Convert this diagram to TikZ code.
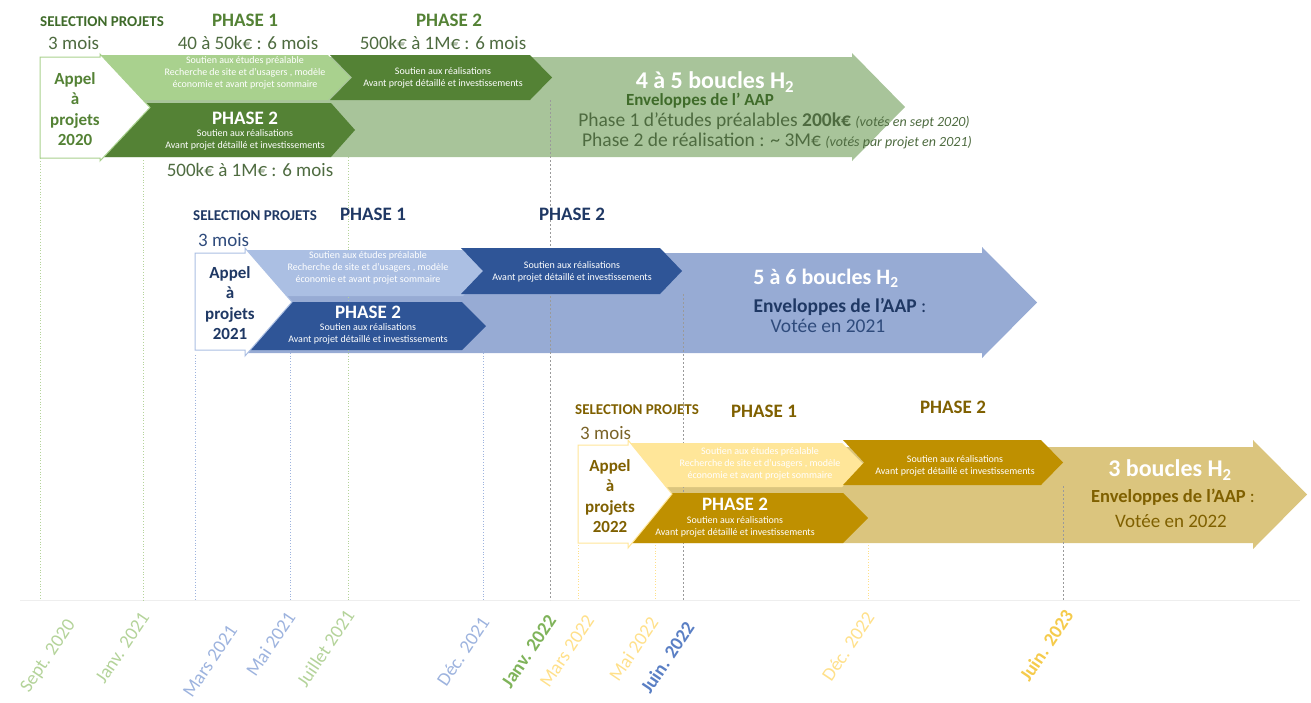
\documentclass[tikz,border=0pt]{standalone}
\usepackage{fontspec}
\setmainfont{Carlito}
\definecolor{gDark}{HTML}{548235}
\definecolor{gLight}{HTML}{A9D18E}
\definecolor{gBig}{HTML}{A8C49A}
\definecolor{gText}{HTML}{3F6B2A}
\definecolor{gText2}{HTML}{4E6B40}
\definecolor{bDark}{HTML}{2F5597}
\definecolor{bLight}{HTML}{ABBFE3}
\definecolor{bBig}{HTML}{97ABD4}
\definecolor{bText}{HTML}{1F3864}
\definecolor{bText2}{HTML}{2F4B7C}
\definecolor{yDark}{HTML}{BF9000}
\definecolor{yLight}{HTML}{FFE699}
\definecolor{yBig}{HTML}{DBC57E}
\definecolor{yText}{HTML}{7F6000}
\definecolor{yText2}{HTML}{7A6328}
\definecolor{dG}{HTML}{B4D39A}
\definecolor{dG2}{HTML}{7FB35A}
\definecolor{dB}{HTML}{9DB3DE}
\definecolor{dB2}{HTML}{5A7FC4}
\definecolor{dY}{HTML}{FFE08A}
\definecolor{dY2}{HTML}{F5CB4C}
\definecolor{gridc}{HTML}{EEEEEE}
\definecolor{dashc}{HTML}{9A9A9A}
% chevron: color, xleft, xnotch, xshoulder, xtip, ytop, ybot
\newcommand{\drawchev}[7]{\fill[#1] (#2,#6) -- (#4,#6) -- (#5,{(#6+#7)/2}) -- (#4,#7) -- (#2,#7) -- (#3,{(#6+#7)/2}) -- cycle;}
% block arrow: style, x0, xneck, xtip, shaft top, shaft bottom, head top, head bottom
\newcommand{\drawbig}[8]{\path[#1] (#2,#5) -- (#3,#5) -- (#3,#7) -- (#4,{(#7+#8)/2}) -- (#3,#8) -- (#3,#6) -- (#2,#6) -- cycle;}
\tikzset{
  selp/.style={font=\bfseries\fontsize{15}{17}\selectfont, anchor=west, inner sep=0},
  phase/.style={font=\bfseries\fontsize{19}{22}\selectfont, inner sep=0},
  amount/.style={font=\fontsize{19}{22}\selectfont, inner sep=0},
  small/.style={font=\fontsize{10}{11.8}\selectfont, align=center, text=white, inner sep=0},
  appel/.style={font=\bfseries\fontsize{17}{20.5}\selectfont, align=center, inner sep=0},
  big/.style={font=\bfseries\fontsize{24}{26}\selectfont, text=white, inner sep=0},
  env/.style={font=\bfseries\fontsize{17}{20}\selectfont, inner sep=0},
  vote/.style={font=\fontsize{19.5}{22}\selectfont, inner sep=0},
  date/.style={font=\fontsize{19}{22}\selectfont, rotate=56, anchor=east, inner sep=0},
  vline/.style={dotted, line width=0.8},
}
\begin{document}
\begin{tikzpicture}[x=1pt,y=-1pt]
\useasboundingbox (0,0) rectangle (1311,702);
\draw[gridc, line width=0.8] (20,600) -- (1300,600);
% big background arrows
\drawbig{fill=gBig}{100}{852}{905}{57}{157}{53}{161}
\drawbig{fill=bBig}{245}{982}{1037}{253}{353}{247}{358}
\drawbig{fill=yBig}{628}{1253}{1307}{447}{543}{440}{549}
% dotted time lines
\draw[vline, dG] (40,158) -- (40,600);
\draw[vline, dG] (143,160) -- (143,600);
\draw[vline, dB] (195,355) -- (195,600);
\draw[vline, dB] (290,350) -- (290,600);
\draw[vline, dG] (348,157) -- (348,600);
\draw[vline, dB] (483,350) -- (483,600);
\draw[vline, dashc, dash pattern=on 2pt off 2pt] (550,100) -- (550,600);
\draw[vline, dY] (578,545) -- (578,600);
\draw[vline, dY] (655,545) -- (655,600);
\draw[vline, dashc, dash pattern=on 2pt off 2pt] (683,294) -- (683,600);
\draw[vline, dY] (868,545) -- (868,600);
\draw[vline, dashc, dash pattern=on 2pt off 2pt] (1063,486) -- (1063,600);
% row 1 chevrons
\drawchev{gLight}{100}{100}{328}{350}{55}{100}
\drawchev{gDark}{330}{352}{530}{552}{55}{100}
\drawchev{gDark}{100}{100}{331}{355}{103}{157}
\drawbig{fill=white, draw=gLight, line width=1}{40}{100}{150}{57}{158}{54}{161}
% row 2 chevrons
\drawchev{bLight}{245}{245}{463}{485}{250}{296}
\drawchev{bDark}{461}{483}{660}{682}{248}{294}
\drawchev{bDark}{245}{245}{462}{486}{302}{350}
\drawbig{fill=white, draw=bLight, line width=1}{195}{245}{292}{253}{350}{248}{356}
% row 3 chevrons
\drawchev{yLight}{628}{628}{842}{864}{443}{487}
\drawchev{yDark}{843}{864}{1041}{1063}{440}{485}
\drawchev{yDark}{628}{628}{843}{868}{493}{543}
\drawbig{fill=white, draw=yLight, line width=1}{578}{628}{672}{445}{543}{440}{548}

% ---- row 1 texts
\node[selp, text=gText] (sp1) at (40,22) {SELECTION PROJETS};
\node[amount, anchor=west, text=gText2] (m1) at (48,43) {3 mois};
\node[phase, text=gDark] (ph1a) at (245,20) {PHASE 1};
\node[amount, text=gText2] (am1a) at (248,43) {40 à 50k€ : 6 mois};
\node[phase, text=gDark] (ph1b) at (449,20) {PHASE 2};
\node[amount, text=gText2] (am1b) at (443,43) {500k€ à 1M€ : 6 mois};
\node[appel, text=gDark] (ap1) at (75,109) {Appel\\à\\projets\\2020};
\node[small] (c1a) at (245,73) {Soutien aux études préalable\\Recherche de site et d’usagers , modèle\\économie et avant projet sommaire};
\node[small] (c1b) at (443,78) {Soutien aux  réalisations\\Avant projet détaillé et investissements};
\node[phase, text=white] (c1c) at (245,118) {PHASE 2};
\node[small] (c1d) at (245,140) {Soutien aux  réalisations\\Avant projet détaillé et investissements};
\node[amount, text=gText2] (am1c) at (250,170) {500k€ à 1M€ : 6 mois};
\node[big] (t1a) at (715,82) {4 à 5 boucles H\textsubscript{2}};
\node[env, text=gText] (t1b) at (700,101) {Enveloppes de l’ AAP};
\node[vote, text=gText2] (t1c) at (774,121) {Phase 1 d’études préalables \textbf{200k€} {\itshape\fontsize{14}{16}\selectfont (votés en sept 2020)}};
\node[vote, text=gText2] (t1d) at (777,141) {Phase 2 de réalisation : \textasciitilde{} 3M€ {\itshape\fontsize{14}{16}\selectfont (votés par projet en 2021)}};

% ---- row 2 texts
\node[selp, text=bText] (sp2) at (193,216) {SELECTION PROJETS};
\node[amount, anchor=west, text=bText2] (m2) at (198,240) {3 mois};
\node[phase, text=bText] (ph2a) at (373,214) {PHASE 1};
\node[phase, text=bText] (ph2b) at (572,214) {PHASE 2};
\node[appel, text=bText] (ap2) at (230,303) {Appel\\à\\projets\\2021};
\node[small] (c2a) at (368,268) {Soutien aux études préalable\\Recherche de site et d’usagers , modèle\\économie et avant projet sommaire};
\node[small] (c2b) at (572,272) {Soutien aux  réalisations\\Avant projet détaillé et investissements};
\node[phase, text=white] (c2c) at (368,312) {PHASE 2};
\node[small] (c2d) at (368,334) {Soutien aux  réalisations\\Avant projet détaillé et investissements};
\node[big, font=\bfseries\fontsize{22}{24}\selectfont] (t2a) at (826,278) {5 à 6 boucles H\textsubscript{2}};
\node[env, font=\bfseries\fontsize{19.5}{22}\selectfont, text=bText] (t2b) at (840,307) {Enveloppes de l’AAP \mdseries :};
\node[vote, text=bText2] (t2c) at (828,326) {Votée en 2021};

% ---- row 3 texts
\node[selp, text=yText] (sp3) at (575,410) {SELECTION PROJETS};
\node[amount, anchor=west, text=yText2] (m3) at (580,433) {3 mois};
\node[phase, text=yText] (ph3a) at (764,411) {PHASE 1};
\node[phase, text=yText] (ph3b) at (953,407) {PHASE 2};
\node[appel, text=yText] (ap3) at (610,496) {Appel\\à\\projets\\2022};
\node[small] (c3a) at (760,464) {Soutien aux études préalable\\Recherche de site et d’usagers , modèle\\économie et avant projet sommaire};
\node[small] (c3b) at (955,466) {Soutien aux  réalisations\\Avant projet détaillé et investissements};
\node[phase, text=white] (c3c) at (735,504) {PHASE 2};
\node[small] (c3d) at (735,527) {Soutien aux  réalisations\\Avant projet détaillé et investissements};
\node[big] (t3a) at (1170,470) {3 boucles H\textsubscript{2}};
\node[env, font=\bfseries\fontsize{18.5}{21}\selectfont, text=yText] (t3b) at (1173,497) {Enveloppes de l’AAP \mdseries :};
\node[vote, font=\fontsize{19}{22}\selectfont, text=yText] (t3c) at (1171,521) {Votée en 2022};

% ---- dates
\node[date, text=dG] (d1) at (72,622) {Sept. 2020};
\node[date, text=dG] (d2) at (145,614) {Janv. 2021};
\node[date, text=dB] (d3) at (233,627) {Mars 2021};
\node[date, text=dB] (d4) at (291,614) {Mai 2021};
\node[date, text=dG] (d5) at (350,612) {Juillet 2021};
\node[date, text=dB] (d6) at (485,619) {Déc. 2021};
\node[date, text=dG2, font=\bfseries\fontsize{19}{22}\selectfont] (d7) at (552,617) {Janv. 2022};
\node[date, text=dY] (d8) at (590,617) {Mars 2022};
\node[date, text=dY] (d9) at (654,619) {Mai 2022};
\node[date, text=dB2, font=\bfseries\fontsize{19}{22}\selectfont] (d10) at (690,624) {Juin. 2022};
\node[date, text=dY] (d11) at (870,614) {Déc. 2022};
\node[date, text=dY2, font=\bfseries\fontsize{19}{22}\selectfont] (d12) at (1069,612) {Juin. 2023};
\end{tikzpicture}
\end{document}
